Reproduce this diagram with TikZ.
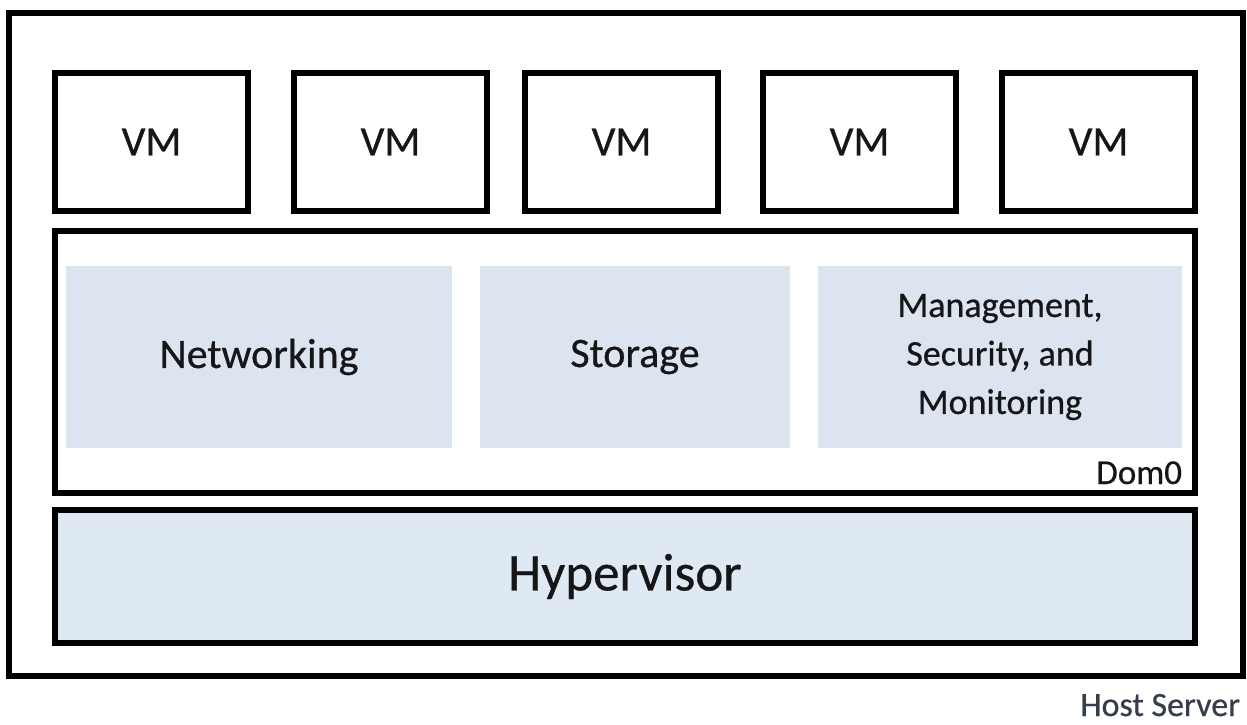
\documentclass[tikz,border=0pt]{standalone}
\usepackage{fontspec}
\setmainfont{Carlito}[FakeBold=0.6]
\definecolor{paleblue}{RGB}{220,229,239}
\definecolor{hypblue}{RGB}{223,233,244}
\definecolor{txt}{RGB}{22,22,22}
\definecolor{hosttxt}{RGB}{52,62,76}
\begin{document}
\begin{tikzpicture}[x=1pt,y=-1pt,
  every node/.style={outer sep=0pt,inner sep=0pt,text=txt},
  box/.style={draw=black,line width=5.5pt,rectangle,anchor=north west},
  vmbox/.style={box,minimum width=193pt,minimum height=138pt,font=\fontsize{42}{50}\selectfont},
  svc/.style={fill=paleblue,rectangle,anchor=north west,minimum height=182pt,align=center},
]
\useasboundingbox (0,0) rectangle (1247,724);
% host server
\node[box,minimum width=1234pt,minimum height=663pt] (host) at (9,13) {};
\node[anchor=base east,text=hosttxt,font=\fontsize{34}{40}\selectfont] (hostlbl) at (1240,716) {Host Server};
% VMs
\node[vmbox] (vm1) at (55,73) {VM};
\node[vmbox] (vm2) at (294,73) {VM};
\node[vmbox] (vm3) at (525,73) {VM};
\node[vmbox] (vm4) at (763,73) {VM};
\node[vmbox] (vm5) at (1002,73) {VM};
% Dom0
\node[box,minimum width=1140pt,minimum height=262pt] (dom0) at (55,231) {};
\node[anchor=base east,font=\fontsize{35}{42}\selectfont] (dom0lbl) at (1182,484) {Dom0};
\node[svc,minimum width=386pt,font=\fontsize{42}{50}\selectfont] (net) at (66,266) {Networking};
\node[svc,minimum width=310pt,font=\fontsize{42}{50}\selectfont] (sto) at (480,266) {Storage};
\node[svc,minimum width=364pt,font=\fontsize{36}{48.5}\selectfont] (mgmt) at (818,266) {Management,\\Security, and\\Monitoring};
% Hypervisor
\node[box,fill=hypblue,minimum width=1140pt,minimum height=133pt,font=\fontsize{53}{60}\selectfont] (hyp) at (55,510) {Hypervisor};
\end{tikzpicture}
\end{document}
